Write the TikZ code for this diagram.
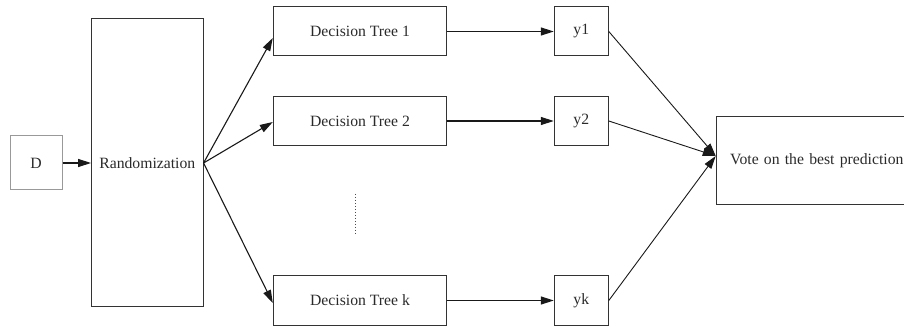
\documentclass[tikz,border=0pt]{standalone}
\usepackage{fontspec}
\setmainfont{Liberation Serif}
\usetikzlibrary{arrows.meta,calc}
\definecolor{edge}{HTML}{333333}
\definecolor{txt}{HTML}{2A2A2A}
\begin{document}
\begin{tikzpicture}[x=1pt,y=-1pt,
  box/.style={draw=edge,line width=1pt,rectangle,inner sep=0pt,text=txt,
    font=\fontsize{15.7}{18}\selectfont},
  lightbox/.style={box,draw=black!40},
  arr/.style={draw=black!90,line width=1.1pt,-{Triangle[length=13pt,width=8pt]}},
  thinarr/.style={draw=black!90,line width=0.9pt,-{Triangle[length=13pt,width=8pt]}}]
\useasboundingbox (0,0) rectangle (904,328);
\node[lightbox,minimum width=52pt,minimum height=54pt] (D) at (36,163) {D};
\node[box,minimum width=111.5pt,minimum height=288pt] (rand) at (147.3,163) {Randomization};
\node[box,minimum width=173.4pt,minimum height=49pt] (dt1) at (360,31.5) {Decision Tree 1};
\node[box,minimum width=173.4pt,minimum height=49pt] (dt2) at (360,121) {Decision Tree 2};
\node[box,minimum width=173.4pt,minimum height=49pt] (dtk) at (360,300.5) {Decision Tree k};
\node[box,minimum width=54pt,minimum height=49pt] (y1) at (581.3,31.5) {y1};
\node[box,minimum width=54pt,minimum height=49pt] (y2) at (581.3,121) {y2};
\node[box,minimum width=54pt,minimum height=49pt] (yk) at (581.3,300.5) {yk};
\node[box,anchor=north west,minimum height=87.7pt,text width=178pt,align=left,inner xsep=14pt] (vote) at (715.7,116) {Vote on the best prediction};
\coordinate (conv) at ($(vote.north west)+(0,40)$);
\draw[arr] (D) -- (rand);
\draw[arr] (rand.east) -- ($(dt1.west)+(0,6.5)$);
\draw[arr] (rand.east) -- ($(dt2.west)+(0,1)$);
\draw[arr] (rand.east) -- ($(dtk.west)+(0,2.5)$);
\draw[arr] (dt1) -- (y1);
\draw[arr] (dt2) -- (y2);
\draw[arr] (dtk) -- (yk);
\draw[thinarr] (y1.east) -- (conv);
\draw[thinarr] (y2.east) -- (conv);
\draw[thinarr] (yk.east) -- (conv);
\draw[black!70,line width=1pt,dotted] (355,194) -- (355,235);
\end{tikzpicture}
\end{document}
